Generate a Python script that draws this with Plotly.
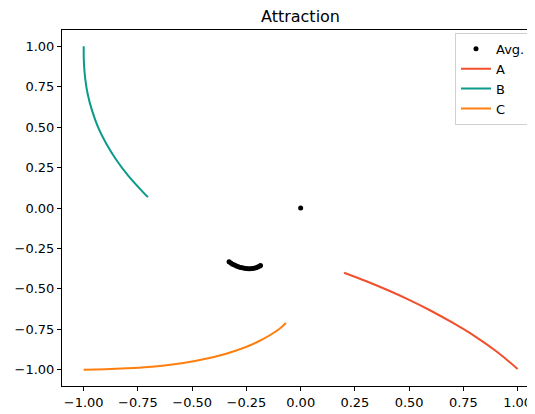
import plotly.graph_objects as go

# Data
avg_x = [0.0, -0.330, -0.322, -0.314, -0.305, -0.296, -0.287, -0.278, -0.269, -0.260,
         -0.251, -0.242, -0.233, -0.224, -0.215, -0.206, -0.198, -0.190, -0.185]
avg_y = [0.0, -0.332, -0.340, -0.347, -0.353, -0.358, -0.363, -0.367, -0.370, -0.372,
         -0.374, -0.375, -0.375, -0.374, -0.372, -0.369, -0.365, -0.360, -0.355]

a_x = [0.200, 0.300, 0.400, 0.500, 0.600, 0.700, 0.800, 0.900, 1.000]
a_y = [-0.400, -0.451, -0.507, -0.568, -0.635, -0.709, -0.790, -0.884, -0.995]

b_x = [-1.000, -0.999, -0.993, -0.981, -0.961, -0.934, -0.897, -0.851, -0.795,
       -0.728, -0.704]
b_y = [1.000, 0.900, 0.800, 0.700, 0.600, 0.500, 0.400, 0.300, 0.200,
       0.100, 0.067]

c_x = [-1.000, -0.900, -0.800, -0.700, -0.600, -0.500, -0.400, -0.300, -0.200,
       -0.100, -0.068]
c_y = [-1.000, -0.997, -0.991, -0.982, -0.968, -0.948, -0.921, -0.882, -0.828,
       -0.749, -0.711]

ticks = [-1.0, -0.75, -0.5, -0.25, 0.0, 0.25, 0.5, 0.75, 1.0]

font = "DejaVu Sans"
OFF = 8  # page body margin of the html page

fig = go.Figure()
fig.add_trace(go.Scatter(x=avg_x, y=avg_y, mode="markers", name="Avg.",
                         marker=dict(color="black", size=5, line=dict(width=0))))
fig.add_trace(go.Scatter(x=a_x, y=a_y, mode="lines", name="A",
                         line=dict(color="#F0502D", width=2, shape="spline")))
fig.add_trace(go.Scatter(x=b_x, y=b_y, mode="lines", name="B",
                         line=dict(color="#0A9A8A", width=2, shape="spline")))
fig.add_trace(go.Scatter(x=c_x, y=c_y, mode="lines", name="C",
                         line=dict(color="#FF7F0E", width=2, shape="spline")))

axis_common = dict(showgrid=False, zeroline=False, showline=True, linecolor="black",
                   linewidth=1, ticks="outside", ticklen=4, tickwidth=1, tickcolor="black",
                   tickvals=ticks, tickformat=".2f",
                   tickfont=dict(family=font, size=13, color="black"))

W, H = 535 - OFF, 414 - OFF
fig.update_layout(
    width=W, height=H,
    margin=dict(l=62 - OFF, r=0, t=30 - OFF, b=28),
    paper_bgcolor="white", plot_bgcolor="white",
    font=dict(family=font, size=13, color="black"),
    title=dict(text="Attraction", x=(300.5 - OFF) / W, xref="container", xanchor="center",
               y=1 - (16 - OFF) / H, yref="container", yanchor="middle",
               font=dict(family=font, size=16, color="black")),
    xaxis=dict(range=[-1.1, 1.08], mirror=True, **axis_common),
    yaxis=dict(range=[-1.1, 1.1], **axis_common),
    legend=dict(x=(455 - 62) / 473, y=0.992, xanchor="left", yanchor="top",
                bgcolor="rgba(255,255,255,0.8)", bordercolor="#d0d0d0", borderwidth=1,
                font=dict(family=font, size=13), tracegroupgap=0, itemwidth=30),
    showlegend=True,
)

fig.write_html("out.html")
